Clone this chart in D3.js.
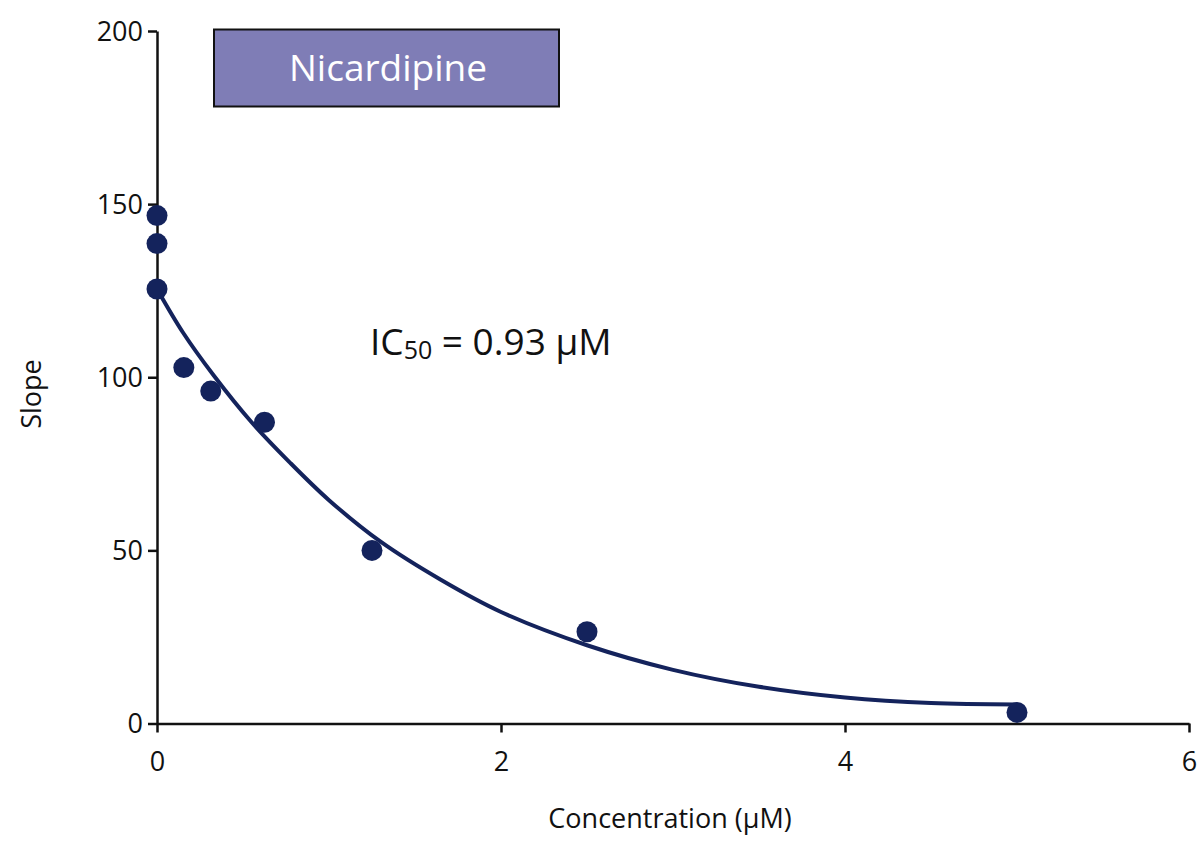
<!DOCTYPE html>
<html>
<head>
<meta charset="utf-8">
<script src="https://cdn.jsdelivr.net/npm/d3@7"></script>
<style>
  body { margin: 0; background: #fff; }
  text { font-family: "Open Sans", "Noto Sans", sans-serif; fill: #111; }
</style>
</head>
<body>
<div id="viz"></div>
<script>
// measured points
var concentration = [0, 0, 0, 0.156, 0.3125, 0.625, 1.25, 2.5, 5]
var slope = [146.7, 138.6, 125.5, 102.8, 96.0, 87.0, 50.0, 26.5, 3.2]

// fitted curve
var fitX = [0, 0.15, 0.33, 0.55, 0.77, 1.0, 1.3, 1.65, 2.0, 2.5, 3.0, 3.5, 4.0, 4.5, 5.0]
var fitY = [125.5, 113, 100.5, 87, 75.5, 64.5, 52.5, 41.5, 32.2, 22.6, 15.5, 10.6, 7.5, 5.9, 5.5]

var xTicks = [0, 2, 4, 6]
var yTicks = [0, 50, 100, 150, 200]

var width = 1200, height = 846
var svg = d3.select('#viz').append('svg')
  .attr('width', width)
  .attr('height', height)

var x = d3.scaleLinear().domain([0, 6]).range([157, 1189])
var y = d3.scaleLinear().domain([0, 200]).range([723.5, 31])

var navy = '#14235c'

// axes
var xAxis = svg.append('g')
  .attr('transform', 'translate(0,' + y(0) + ')')
  .call(d3.axisBottom(x).tickValues(xTicks).tickFormat(d3.format('d'))
    .tickSize(9).tickPadding(19).tickSizeOuter(0))
var yAxis = svg.append('g')
  .attr('transform', 'translate(' + x(0) + ',0)')
  .call(d3.axisLeft(y).tickValues(yTicks).tickFormat(d3.format('d'))
    .tickSize(9).tickPadding(5).tickSizeOuter(0))

;[xAxis, yAxis].forEach(function(ax) {
  ax.select('.domain').attr('stroke', '#111').attr('stroke-width', 2.5)
  ax.selectAll('.tick line').attr('stroke', '#111').attr('stroke-width', 2.5)
  ax.selectAll('.tick text')
    .attr('font-size', 27)
    .style('font-size', '27px')
    .attr('fill', '#111')
})
yAxis.selectAll('.tick text').attr('dy', '0.35em')

// axis titles
svg.append('text')
  .attr('x', 670)
  .attr('y', 828)
  .attr('text-anchor', 'middle')
  .style('font-size', '27px')
  .text('Concentration (μM)')

svg.append('text')
  .attr('transform', 'translate(41,394)rotate(-90)')
  .attr('text-anchor', 'middle')
  .style('font-size', '27px')
  .text('Slope')

// fitted curve
var fit = fitX.map(function(d, i) { return [d, fitY[i]] })
svg.append('path')
  .datum(fit)
  .attr('d', d3.line()
    .x(function(d) { return x(d[0]) })
    .y(function(d) { return y(d[1]) })
    .curve(d3.curveCatmullRom.alpha(0.5)))
  .attr('fill', 'none')
  .attr('stroke', navy)
  .attr('stroke-width', 4)

// data points
svg.selectAll('.dot')
  .data(concentration)
  .enter()
  .append('circle')
  .attr('cx', function(d) { return x(d) })
  .attr('cy', function(d, i) { return y(slope[i]) })
  .attr('r', 10.5)
  .attr('fill', navy)

// title box
svg.append('rect')
  .attr('x', 214)
  .attr('y', 29.5)
  .attr('width', 345)
  .attr('height', 77)
  .attr('fill', '#7f7db6')
  .attr('stroke', '#111')
  .attr('stroke-width', 2)
svg.append('text')
  .attr('x', 388)
  .attr('y', 81)
  .attr('text-anchor', 'middle')
  .style('font-size', '37px')
  .style('fill', '#fff')
  .text('Nicardipine')

// IC50 label
var ic = svg.append('text')
  .attr('x', 370)
  .attr('y', 355)
  .style('font-size', '37px')
ic.append('tspan').text('IC')
ic.append('tspan').attr('dy', 4).style('font-size', '25px').text('50')
ic.append('tspan').attr('dy', -4).text(' = 0.93 μM')
</script>
</body>
</html>
